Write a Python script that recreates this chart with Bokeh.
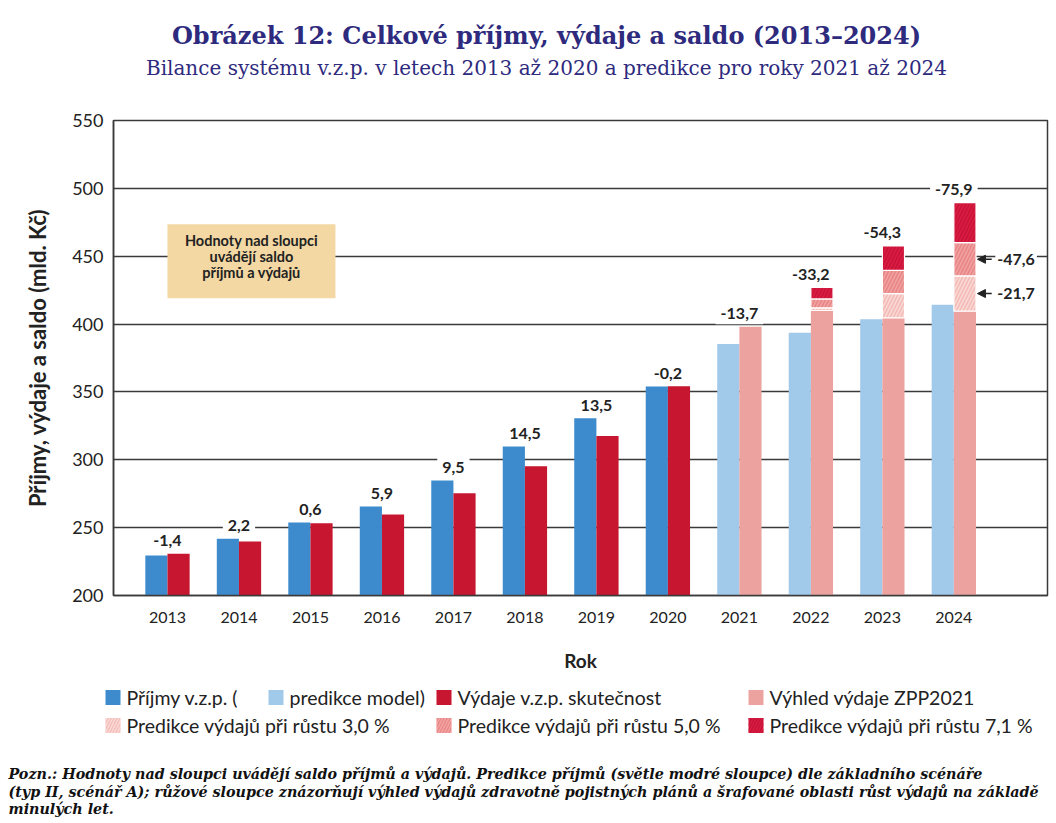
import numpy as np
from bokeh.plotting import figure
from bokeh.models import Range1d, FixedTicker, Arrow, NormalHead
from bokeh.layouts import column
from bokeh.embed import file_html
from bokeh.resources import INLINE
from bokeh.core.properties import value

# ---------------- data ----------------
years = ["2013", "2014", "2015", "2016", "2017", "2018", "2019", "2020",
         "2021", "2022", "2023", "2024"]
income = [229.4, 241.9, 253.8, 265.5, 284.8, 309.8, 330.6, 354.0,
          385.3, 393.6, 403.5, 414.2]
exp_actual = [230.8, 239.7, 253.2, 259.6, 275.3, 295.3, 317.5, 354.2]   # 2013-2020
exp_zpp = [398.0, 410.0, 404.6, 409.5]                                 # 2021-2024
exp_g3 = [None, 412.0, 422.5, 435.5]                                   # 2021-2024
exp_g5 = [None, 418.5, 439.5, 460.0]
exp_g7 = [None, 427.0, 457.6, 489.5]
saldo_labels = ["-1,4", "2,2", "0,6", "5,9", "9,5", "14,5", "13,5", "-0,2",
                "-13,7", "-33,2", "-54,3", "-75,9"]
arrow_labels = ["-21,7", "-47,6"]   # 2024, growth 3,0 % and 5,0 %
legend_labels = ["Příjmy v.z.p. (", "predikce model)", "Výdaje v.z.p. skutečnost",
                 "Výhled výdaje ZPP2021", "Predikce výdajů při růstu 3,0 %",
                 "Predikce výdajů při růstu 5,0 %", "Predikce výdajů při růstu 7,1 %"]

C_BLUE = "#3d8bcd"
C_LBLUE = "#a0c9ea"
C_RED = "#c7162f"
C_ZPP = "#eca39f"
C_G3 = "#f4bbb6"
C_G5 = "#e98686"
C_G7 = "#dc1a41"
NAVY = "#2e2a7d"
TXT = "#222222"
FONT = "Lato"

W = 1056
H_T, H_M, H_L, H_N = 93, 587, 65, 78   # stacked heights = 823
FL, FR = 113, 1047                      # frame left/right on the page
FT_LOCAL, FB_LOCAL = 27, 85             # main frame top/bottom borders

n = len(years)
n_act = len(exp_actual)
idx = np.arange(n)
bw = 0.31
off = bw / 2

HATCH3 = dict(hatch_pattern="right_diagonal_line", hatch_color="white", hatch_alpha=0.45,
              hatch_weight=1.5)
HATCH5 = dict(hatch_pattern="right_diagonal_line", hatch_color="#f7b9b9", hatch_alpha=0.55,
              hatch_weight=1.5)
HATCH7 = dict(hatch_pattern="right_diagonal_line", hatch_color="#b50f30", hatch_alpha=0.6,
              hatch_weight=1.5)


def blank_fig(h):
    f = figure(width=W, height=h, x_range=Range1d(0, W), y_range=Range1d(h, 0),
               output_backend="svg", toolbar_location=None,
               x_axis_location=None, y_axis_location=None,
               min_border_left=0, min_border_right=0, min_border_top=0, min_border_bottom=0)
    f.frame_align = False
    f.grid.visible = False
    f.outline_line_color = None
    return f


# ---------------- title ----------------
t = blank_fig(H_T)
t.text(x=[546], y=[35], text=["Obrázek 12: Celkové příjmy, výdaje a saldo (2013–2024)"],
       text_font=value("DejaVu Serif"), text_font_style="bold", text_font_size="24px",
       text_color=NAVY, text_align="center", text_baseline="middle")
t.text(x=[546], y=[67], text=["Bilance systému v.z.p. v letech 2013 až 2020 a predikce pro roky 2021 až 2024"],
       text_font=value("DejaVu Serif"), text_font_size="20px",
       text_color=NAVY, text_align="center", text_baseline="middle")

# ---------------- main chart ----------------
p = figure(width=W, height=H_M, x_range=Range1d(-0.755, 12.31), y_range=Range1d(200, 550),
           output_backend="svg", toolbar_location=None,
           min_border_left=FL, min_border_right=W - FR,
           min_border_top=FT_LOCAL, min_border_bottom=FB_LOCAL)
p.frame_align = False
p.outline_line_color = "#3a3a3a"
p.outline_line_width = 1.5
p.xgrid.visible = False
p.ygrid.grid_line_color = "#3a3a3a"
p.ygrid.grid_line_width = 1.5
p.yaxis.ticker = FixedTicker(ticks=[200, 250, 300, 350, 400, 450, 500, 550])
p.xaxis.ticker = FixedTicker(ticks=list(range(n)))
p.xaxis.major_label_overrides = {i: y for i, y in enumerate(years)}
for ax in (p.xaxis, p.yaxis):
    ax.axis_line_color = "#3a3a3a"
    ax.axis_line_width = 1.5
    ax.major_tick_out = 0
    ax.major_tick_in = 0
    ax.minor_tick_out = 0
    ax.minor_tick_in = 0
    ax.major_label_text_font = FONT
    ax.major_label_text_color = TXT
    ax.axis_label_text_font = FONT
    ax.axis_label_text_font_style = "bold"
    ax.axis_label_text_color = TXT
p.xaxis.major_label_text_font_size = "16px"
p.yaxis.major_label_text_font_size = "18px"
p.xaxis.major_label_standoff = 16
p.yaxis.major_label_standoff = 10
p.xaxis.axis_label = "Rok"
p.xaxis.axis_label_text_font_size = "19px"
p.xaxis.axis_label_standoff = 23
p.yaxis.axis_label = "Příjmy, výdaje a saldo (mld. Kč)"
p.yaxis.axis_label_text_font_size = "22px"
p.yaxis.axis_label_standoff = 18

# income bars
p.vbar(x=idx[:n_act] - off, top=income[:n_act], bottom=200, width=bw,
       fill_color=C_BLUE, line_color=None)
p.vbar(x=idx[n_act:] - off, top=income[n_act:], bottom=200, width=bw,
       fill_color=C_LBLUE, line_color=None)
# actual expenditure
p.vbar(x=idx[:n_act] + off, top=exp_actual, bottom=200, width=bw,
       fill_color=C_RED, line_color=None)
# ZPP outlook
p.vbar(x=idx[n_act:] + off, top=exp_zpp, bottom=200, width=bw,
       fill_color=C_ZPP, line_color=None)

# growth scenario segments (stacked)
fx, b3, t3, b5, t5, b7, t7 = [], [], [], [], [], [], []
for k in range(len(exp_zpp)):
    if exp_g3[k] is None:
        continue
    fx.append(idx[n_act + k] + off)
    b3.append(exp_zpp[k]); t3.append(exp_g3[k])
    b5.append(exp_g3[k]); t5.append(exp_g5[k])
    b7.append(exp_g5[k]); t7.append(exp_g7[k])
p.vbar(x=fx, bottom=b3, top=t3, width=bw, fill_color=C_G3, line_color="white", line_width=1.2,
       hatch_scale=7, **HATCH3)
p.vbar(x=fx, bottom=b5, top=t5, width=bw, fill_color=C_G5, line_color="white", line_width=1.2,
       hatch_scale=7, **HATCH5)
p.vbar(x=fx, bottom=b7, top=t7, width=bw, fill_color=C_G7, line_color="white", line_width=1.2,
       hatch_scale=7, **HATCH7)

# saldo labels above bars
tops = []
for i in range(n):
    vals = [income[i]]
    if i < n_act:
        vals.append(exp_actual[i])
    else:
        k = i - n_act
        vals.append(exp_zpp[k])
        if exp_g7[k] is not None:
            vals.append(exp_g7[k])
    tops.append(max(vals))
p.text(x=idx, y=tops, text=saldo_labels, y_offset=-13,
       text_font=value(FONT), text_font_style="bold", text_font_size="16px",
       text_color=TXT, text_align="center", text_baseline="middle",
       background_fill_color="white", padding=5)

# arrows for 2024 scenarios
k_last = len(exp_zpp) - 1
ax_x = idx[-1] + bw
arrow_y = [(exp_zpp[k_last] + exp_g3[k_last]) / 2, (exp_g3[k_last] + exp_g5[k_last]) / 2]
for yy in arrow_y:
    p.add_layout(Arrow(end=NormalHead(size=8, fill_color=TXT, line_color=TXT),
                       x_start=ax_x + 0.22, y_start=yy, x_end=ax_x + 0.02, y_end=yy,
                       line_color=TXT, line_width=1.5))
p.text(x=[ax_x + 0.27] * 2, y=arrow_y, text=arrow_labels,
       text_font=value(FONT), text_font_style="bold", text_font_size="16px",
       text_color=TXT, text_align="left", text_baseline="middle",
       background_fill_color="white", padding=2)

# note box
p.quad(left=[0.0], right=[2.35], bottom=[419], top=[473.5],
       fill_color="#f3d8a3", line_color=None)
box_lines = ["Hodnoty nad sloupci", "uvádějí saldo", "příjmů a výdajů"]
p.text(x=[1.175] * 3, y=[449.5] * 3, text=box_lines, y_offset=[-16, 0, 16],
       text_font=value(FONT), text_font_style="bold", text_font_size="14.5px",
       text_color=TXT, text_align="center", text_baseline="middle")

# ---------------- legend ----------------
lg = blank_fig(H_L)
r1, r2 = 17, 45
sw = 15
sw_x = [105, 268, 436, 748]
lg.rect(x=[v + sw / 2 for v in sw_x], y=[r1] * 4, width=sw, height=sw,
        fill_color=[C_BLUE, C_LBLUE, C_RED, C_ZPP], line_color=None)
lg.rect(x=[105 + sw / 2], y=[r2], width=sw, height=sw, fill_color=C_G3, line_color=None,
        hatch_scale=6, **HATCH3)
lg.rect(x=[436 + sw / 2], y=[r2], width=sw, height=sw, fill_color=C_G5, line_color=None,
        hatch_scale=6, **HATCH5)
lg.rect(x=[748 + sw / 2], y=[r2], width=sw, height=sw, fill_color=C_G7, line_color=None,
        hatch_scale=6, **HATCH7)
tx = [v + sw + 6 for v in sw_x] + [v + sw + 6 for v in (105, 436, 748)]
lg.text(x=tx, y=[r1] * 4 + [r2] * 3, text=legend_labels,
        text_font=value(FONT), text_font_size="19.5px", text_color=TXT,
        text_align="left", text_baseline="middle")

# ---------------- note ----------------
nt = blank_fig(H_N)
note_lines = [
    "Pozn.: Hodnoty nad sloupci uvádějí saldo příjmů a výdajů. Predikce příjmů (světle modré sloupce) dle základního scénáře",
    "(typ II, scénář A); růžové sloupce znázorňují výhled výdajů zdravotně pojistných plánů a šrafované oblasti růst výdajů na základě",
    "minulých let.",
]
nt.text(x=[8, 8, 8], y=[28, 46, 63], text=note_lines,
        text_font=value("DejaVu Serif"), text_font_style="bold italic", text_font_size="14.3px",
        text_color="#111111", text_align="left", text_baseline="middle")

layout = column(t, p, lg, nt, spacing=0)
open("out.html", "w").write(file_html(layout, INLINE))
